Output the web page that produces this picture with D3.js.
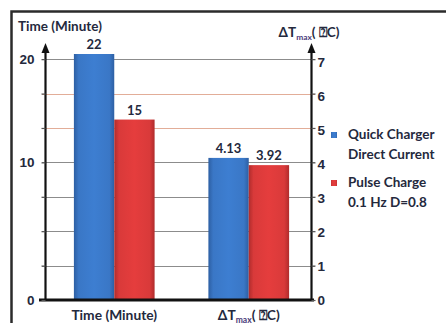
<!DOCTYPE html>
<html><head><meta charset="utf-8">
<script src="https://cdn.jsdelivr.net/npm/d3@7"></script>
<style>
html,body{margin:0;padding:0;background:#fff;}
svg{display:block;font-family:Lato,"Open Sans",sans-serif;font-weight:700;}
svg text{white-space:pre;}
</style></head>
<body><svg id="c" width="446" height="323"></svg>
<script>
const categories = ["Time (Minute)", "ΔTmax( ⍰C)"];
const seriesNames = ["Quick Charger|Direct Current", "Pulse Charge|0.1 Hz D=0.8"];
const quickValues = [22, 4.13];
const pulseValues = [15, 3.92];
const rightTicks = [0, 1, 2, 3, 4, 5, 6, 7];
const leftTickLabels = ["0", "", "", "", "10", "", "", "20"];
const leftTitle = "Time (Minute)";
const rightTitle = "ΔTmax( ⍰C)";

const svg = d3.select("#c");
const textCol = "#24293d";
const yR = d3.scaleLinear().domain([0, 7.15]).range([300, 54]);
const yL = d3.scaleLinear().domain([0, 20.45]).range([300, 54]).clamp(true);
const x0 = d3.scaleBand().domain(categories).range([47, 316]).paddingInner(0.4).paddingOuter(0.2);
const x1 = d3.scaleBand().domain(seriesNames).range([0, x0.bandwidth()]);
const colors = d3.scaleOrdinal().domain(seriesNames).range(["#3a77c6", "#d93a3a"]);
const edge = {"#3a77c6": "#2d5fa3", "#d93a3a": "#b02c2c"};

// frame
svg.append("path").attr("d", "M11.5,323V11.5H446").attr("fill", "none").attr("stroke", "#2b2b2b").attr("stroke-width", 2.5);

// gradients
const defs = svg.append("defs");
seriesNames.forEach((s, i) => {
  const c = colors(s);
  const g = defs.append("linearGradient").attr("id", "g" + i).attr("x1", 0).attr("x2", 1).attr("y1", 0).attr("y2", 0);
  g.append("stop").attr("offset", 0).attr("stop-color", edge[c]);
  g.append("stop").attr("offset", 0.12).attr("stop-color", c);
  g.append("stop").attr("offset", 0.5).attr("stop-color", d3.color(c).brighter(0.15));
  g.append("stop").attr("offset", 0.88).attr("stop-color", c);
  g.append("stop").attr("offset", 1).attr("stop-color", edge[c]);
});

// gridlines
svg.append("g").selectAll("line").data(rightTicks.filter(d => d > 0)).join("line")
  .attr("x1", 42).attr("x2", 315).attr("y1", d => Math.round(yR(d)) + 0.5).attr("y2", d => Math.round(yR(d)) + 0.5)
  .attr("stroke", d => (d === 5 || d === 6) ? "#e2ad98" : "#8c8c8c").attr("stroke-width", 1.2);

// bars
const data = [];
categories.forEach((c, i) => {
  const sc = i === 0 ? yL : yR;
  [quickValues, pulseValues].forEach((arr, j) => data.push({cat: c, s: seriesNames[j], j, v: arr[i], sc}));
});
const bars = svg.append("g");
bars.selectAll("rect").data(data).join("rect")
  .attr("x", d => x0(d.cat) + x1(d.s))
  .attr("y", d => d.sc(d.v))
  .attr("width", x1.bandwidth())
  .attr("height", d => d.sc(0) - d.sc(d.v))
  .attr("fill", d => `url(#g${d.j})`);
bars.selectAll("text").data(data).join("text")
  .attr("x", d => x0(d.cat) + x1(d.s) + x1.bandwidth() / 2)
  .attr("y", d => d.sc(d.v) - 5)
  .attr("text-anchor", "middle").attr("font-size", 13).attr("fill", textCol)
  .text(d => d.v);

// axes lines
function vAxis(x) {
  svg.append("line").attr("x1", x).attr("x2", x).attr("y1", 301).attr("y2", 50).attr("stroke", "#111").attr("stroke-width", 2.2);
  svg.append("path").attr("d", `M${x},43L${x - 4},53L${x + 4},53Z`).attr("fill", "#111");
}
vAxis(45.5);
vAxis(311.5);
svg.append("line").attr("x1", 39).attr("x2", 314).attr("y1", 300).attr("y2", 300).attr("stroke", "#111").attr("stroke-width", 3);

// left axis
const la = svg.append("g").attr("transform", "translate(45.5,0)")
  .call(d3.axisLeft(yR).tickValues(rightTicks).tickSize(4).tickFormat((d, i) => leftTickLabels[i]));
la.select(".domain").remove();
la.selectAll("line").attr("stroke", "#555").attr("stroke-width", 1.2);
la.selectAll("text").attr("font-family", null).attr("font-size", 13.5).attr("font-weight", 700).attr("fill", textCol).attr("dx", -4);

// right axis
const ra = svg.append("g").attr("transform", "translate(311.5,0)")
  .call(d3.axisRight(yR).tickValues(rightTicks).tickSize(4));
ra.select(".domain").remove();
ra.selectAll("line").attr("stroke", "#555").attr("stroke-width", 1.2);
ra.selectAll("text").attr("font-family", null).attr("font-size", 13.5).attr("font-weight", 700).attr("fill", textCol).attr("dx", -1)
  .attr("dy", d => (0.32 + 0.03 * d) + "em");

// text with subscript helper
function label(sel, str, size) {
  const idx = str.indexOf("max");
  if (idx < 0) { sel.text(str); return sel; }
  sel.append("tspan").text(str.slice(0, idx));
  sel.append("tspan").text("max").attr("font-size", size * 0.62).attr("fill", "#4a3a7a").attr("dy", 3);
  sel.append("tspan").text(str.slice(idx + 3)).attr("dy", -3);
  return sel;
}

// bottom category labels
categories.forEach(c => {
  const t = svg.append("text").attr("x", x0(c) + x0.bandwidth() / 2).attr("y", 319.5)
    .attr("text-anchor", "middle").attr("font-size", 13.8).attr("fill", textCol);
  label(t, c, 13.8);
});

// axis titles
svg.append("text").attr("x", 18).attr("y", 31).attr("font-size", 13.5).attr("fill", textCol).text(leftTitle);
label(svg.append("text").attr("x", 309).attr("y", 37).attr("text-anchor", "middle").attr("font-size", 13.5).attr("fill", textCol), rightTitle, 13.5);

// legend
const lg = svg.append("g");
seriesNames.forEach((s, i) => {
  const y0 = 139 + i * 48;
  lg.append("rect").attr("x", 331).attr("y", y0 - 7).attr("width", 6).attr("height", 6).attr("fill", `url(#g${i})`);
  s.split("|").forEach((line, k) => {
    lg.append("text").attr("x", 348).attr("y", y0 + k * 19.5).attr("font-size", 13.5).attr("fill", textCol).text(line);
  });
});
</script></body></html>
